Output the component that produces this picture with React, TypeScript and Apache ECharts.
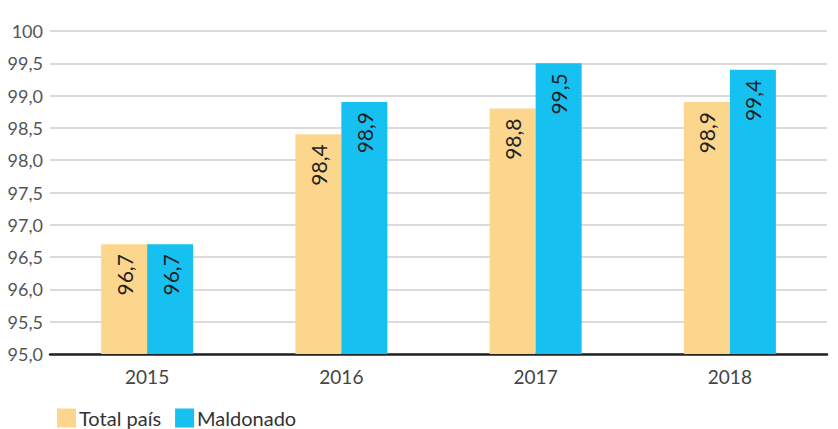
import React, { useEffect, useRef } from "react";
import * as echarts from "echarts";

const categories = ["2015", "2016", "2017", "2018"];
const totalPais = [96.7, 98.4, 98.8, 98.9];
const maldonado = [96.7, 98.9, 99.5, 99.4];
const seriesNames = ["Total país", "Maldonado"];

const fmt = (v: number) => v.toFixed(1).replace(".", ",");

export default function App() {
  const ref = useRef<HTMLDivElement>(null);
  useEffect(() => {
    document.body.style.margin = "0";
    const chart = echarts.init(ref.current!, null, { renderer: "svg" });
    const font = "'Source Sans Pro', Lato, 'Noto Sans', sans-serif";
    const label = {
      show: true,
      position: "insideTop",
      rotate: 90,
      align: "right",
      verticalAlign: "middle",
      distance: 10,
      color: "#222",
      fontSize: 21,
      fontFamily: font,
      formatter: (p: any) => fmt(p.value),
    };
    chart.setOption({
      animation: false,
      textStyle: { fontFamily: font },
      grid: { left: 50, right: 11, top: 31, bottom: 75 },
      legend: {
        left: 52,
        top: 403,
        itemWidth: 19,
        itemHeight: 19,
        itemGap: 14,
        icon: "rect",
        textStyle: { fontSize: 20, color: "#333", fontFamily: font, padding: [0, 0, 0, -2] },
        data: seriesNames,
      },
      xAxis: {
        type: "category",
        data: categories,
        axisLine: { lineStyle: { color: "#222", width: 2.5 } },
        axisTick: { show: false },
        axisLabel: { fontSize: 19, color: "#444", margin: 13, fontFamily: font },
      },
      yAxis: {
        type: "value",
        min: 95,
        max: 100,
        interval: 0.5,
        axisLine: { show: false },
        axisTick: { show: false },
        splitLine: { lineStyle: { color: "#cfcfcf", width: 1.5 } },
        axisLabel: {
          fontSize: 18,
          color: "#555",
          margin: 7,
          fontFamily: font,
          formatter: (v: number) => (v === 100 ? "100" : fmt(v)),
        },
      },
      series: [
        {
          name: seriesNames[0],
          type: "bar",
          data: totalPais,
          barWidth: 46,
          barGap: "0%",
          itemStyle: { color: "#FDD68E" },
          label,
        },
        {
          name: seriesNames[1],
          type: "bar",
          data: maldonado,
          barWidth: 46,
          barGap: "0%",
          itemStyle: { color: "#16C0F1" },
          label,
        },
      ],
    });
    return () => chart.dispose();
  }, []);
  return <div ref={ref} style={{ width: 838, height: 429 }} />;
}
